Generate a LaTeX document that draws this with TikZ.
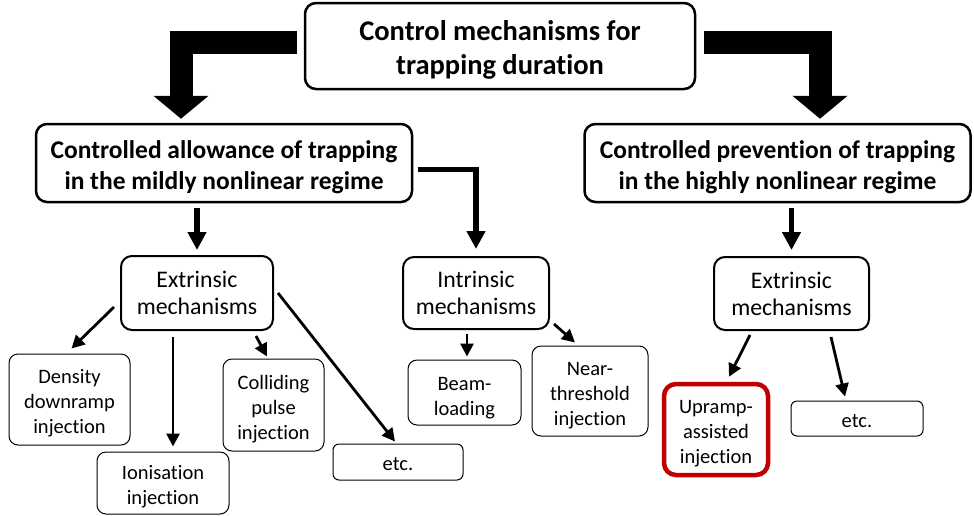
\documentclass[tikz,border=0pt]{standalone}
\usepackage{fontspec}
\setmainfont{Carlito}[Ligatures=NoCommon]
\usetikzlibrary{arrows.meta}

\newcommand\lowline[1][1.05em]{\rule{0pt}{#1}}

\tikzset{
  mainbox/.style={draw, line width=2.5pt, rounded corners=11pt, align=center, inner sep=0pt},
  leafbox/.style={draw, line width=1pt, rounded corners=9pt, align=center, inner sep=0pt,
    font=\fontsize{20.5}{25}\selectfont},
  bigarrow/.style={line width=23pt, line join=miter, -{Triangle[width=54pt,length=23pt]}},
  midarrow/.style={line width=5.5pt, line join=miter, -{Triangle[width=18pt,length=18pt]}},
  smallarrow/.style={line width=2.8pt, -{Triangle[width=13pt,length=13pt]}},
}

\begin{document}
\begin{tikzpicture}[x=1pt, y=-1pt]
   \useasboundingbox (0,0) rectangle (974,515);

   % top level
   \node(top)[mainbox, minimum width=390pt, minimum height=86pt,
     font=\bfseries\fontsize{28.5}{34}\selectfont] at (500,46)
     {\lowline[0.95em]Control mechanisms for\\trapping duration};

   % second level
   \node(allow)[mainbox, minimum width=376pt, minimum height=78pt,
     font=\bfseries\fontsize{25.5}{31}\selectfont] at (224,163)
     {\lowline Controlled allowance of trapping\\in the mildly nonlinear regime};
   \node(prevent)[mainbox, minimum width=386pt, minimum height=78pt,
     font=\bfseries\fontsize{25.5}{31}\selectfont] at (777.5,163)
     {\lowline Controlled prevention of trapping\\in the highly nonlinear regime};

   % third level
   \node(extL)[mainbox, line width=2pt, minimum width=152pt, minimum height=74pt,
     font=\fontsize{23.8}{27}\selectfont] at (197,293) {Extrinsic\\mechanisms};
   \node(intr)[mainbox, line width=2pt, minimum width=146pt, minimum height=72pt,
     font=\fontsize{23.8}{27}\selectfont] at (476,293) {Intrinsic\\mechanisms};
   \node(extR)[mainbox, line width=2pt, minimum width=155pt, minimum height=73pt,
     font=\fontsize{23.8}{27}\selectfont] at (791.5,293.5) {Extrinsic\\mechanisms};

   % leaves
   \node(dens)[leafbox, minimum width=121pt, minimum height=91pt] at (69.5,399.5)
     {\lowline Density\\downramp\\injection};
   \node(ion)[leafbox, minimum width=132pt, minimum height=62pt] at (163,483)
     {\lowline Ionisation\\injection};
   \node(coll)[leafbox, minimum width=101pt, minimum height=92pt] at (273.5,405)
     {\lowline Colliding\\pulse\\injection};
   \node(etcL)[leafbox, rounded corners=6pt, minimum width=130pt, minimum height=36pt] at (398,462)
     {\lowline[0.85em]etc.};
   \node(beam)[leafbox, minimum width=113pt, minimum height=65pt] at (464.5,392.5)
     {\lowline[1.15em]Beam-\\loading};
   \node(near)[leafbox, minimum width=116pt, minimum height=90pt] at (590,391)
     {\lowline Near-\\threshold\\injection};
   \node(up)[leafbox, draw={rgb,255:red,192;green,0;blue,0}, line width=4.5pt, rounded corners=12pt,
     minimum width=104pt, minimum height=91pt] at (716,429.5)
     {\lowline Upramp-\\assisted\\injection};
   \node(etcR)[leafbox, rounded corners=6pt, minimum width=132pt, minimum height=35pt] at (857,418.5)
     {\lowline[0.85em]etc.};

   % thick arrows
   \draw[bigarrow] ([xshift=-7pt,yshift=3.5pt]top.west) -| ([xshift=-43pt,yshift=4pt]allow.north);
   \draw[bigarrow] ([xshift=8pt,yshift=4pt]top.east) -| ([xshift=42.5pt,yshift=4pt]prevent.north);

   \draw[midarrow] ([yshift=-5pt]allow.south -| extL.north) -- ([yshift=5pt]extL.north);
   \draw[midarrow] ([xshift=5pt,yshift=-6.5pt]allow.east) -| ([yshift=7pt]intr.north);
   \draw[midarrow] ([yshift=-5pt]prevent.south -| extR.north) -- ([yshift=6pt]extR.north);

   % thin arrows
   \draw[smallarrow] ([xshift=-6pt,yshift=-14pt]extL.west) -- ([xshift=2pt,yshift=5pt]dens.north);
   \draw[smallarrow] ([xshift=-24pt,yshift=-6pt]extL.south) -- ([xshift=10pt,yshift=5pt]ion.north);
   \draw[smallarrow] ([xshift=-18pt,yshift=-5pt]extL.south east) -- ([xshift=-6.5pt,yshift=2pt]coll.north);
   \draw[smallarrow] ([xshift=4pt]extL.east) -- ([xshift=-3pt,yshift=2pt]etcL.north);
   \draw[smallarrow] ([xshift=-9pt,yshift=-4pt]intr.south) -- ([xshift=2.5pt,yshift=3pt]beam.north);
   \draw[smallarrow] ([xshift=4pt,yshift=6pt]intr.south east) -- ([xshift=-15pt,yshift=3pt]near.north);
   \draw[smallarrow] ([xshift=-41.5pt,yshift=-4pt]extR.south) -- ([xshift=13pt,yshift=5pt]up.north);
   \draw[smallarrow] ([xshift=39.5pt,yshift=-6pt]extR.south) -- ([xshift=-12pt,yshift=4pt]etcR.north);

\end{tikzpicture}
\end{document}
